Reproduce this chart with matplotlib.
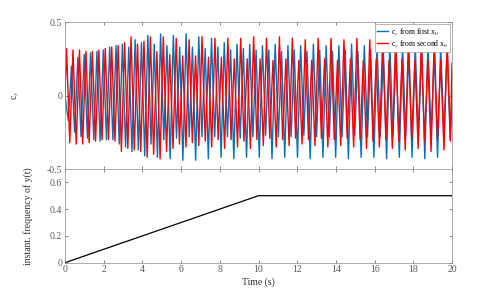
import numpy as np
import matplotlib
matplotlib.use("Agg")
import matplotlib.pyplot as plt

plt.rcParams['font.family'] = ['Liberation Serif', 'DejaVu Serif']
plt.rcParams['mathtext.fontset'] = 'stix'
plt.rcParams['font.size'] = 7

# c_y from first x0: extrema (peaks / troughs)
blue_peaks = [0.20, 0.26, 0.28, 0.29, 0.30, 0.31, 0.33, 0.34, 0.35, 0.33,
              0.38, 0.36, 0.41, 0.35, 0.42, 0.34, 0.41, 0.33, 0.42, 0.33,
              0.40, 0.32, 0.39, 0.33, 0.36, 0.31, 0.35, 0.32, 0.35, 0.31,
              0.34, 0.31, 0.35, 0.30, 0.34, 0.31, 0.34, 0.30, 0.35, 0.31,
              0.34, 0.30, 0.34, 0.31, 0.35, 0.30, 0.34, 0.31, 0.34, 0.30,
              0.35, 0.31, 0.34, 0.30, 0.34, 0.31, 0.35, 0.30, 0.34, 0.31]
blue_troughs = [-0.17, -0.25, -0.28, -0.29, -0.30, -0.31, -0.30, -0.30, -0.33, -0.35,
                -0.38, -0.37, -0.41, -0.33, -0.42, -0.30, -0.43, -0.29, -0.44, -0.28,
                -0.44, -0.28, -0.43, -0.28, -0.42, -0.28, -0.43, -0.29, -0.42, -0.28,
                -0.42, -0.27, -0.43, -0.28, -0.42, -0.28, -0.42, -0.27, -0.43, -0.28,
                -0.42, -0.28, -0.42, -0.28, -0.43, -0.27, -0.42, -0.28, -0.42, -0.28,
                -0.43, -0.28, -0.42, -0.27, -0.42, -0.28, -0.43, -0.28, -0.42, -0.28,
                -0.30]
blue_start, blue_end = 0.0, -0.05

# c_y from second x0
red_peaks = [0.32, 0.31, 0.31, 0.30, 0.30, 0.31, 0.32, 0.33, 0.34, 0.36,
             0.40, 0.35, 0.37, 0.40, 0.30, 0.40, 0.28, 0.39, 0.27, 0.38,
             0.27, 0.40, 0.26, 0.39, 0.26, 0.39, 0.25, 0.39, 0.25, 0.40,
             0.25, 0.39, 0.24, 0.40, 0.25, 0.39, 0.24, 0.38, 0.24, 0.39,
             0.25, 0.39, 0.24, 0.38, 0.25, 0.39, 0.24, 0.38, 0.25, 0.39,
             0.24, 0.38, 0.25, 0.39, 0.24, 0.38, 0.25, 0.39, 0.24, 0.38]
red_troughs = [-0.32, -0.33, -0.33, -0.32, -0.31, -0.30, -0.30, -0.31, -0.38, -0.36,
               -0.37, -0.38, -0.42, -0.40, -0.43, -0.38, -0.36, -0.33, -0.35, -0.32,
               -0.34, -0.31, -0.35, -0.30, -0.36, -0.30, -0.35, -0.31, -0.36, -0.30,
               -0.34, -0.29, -0.35, -0.30, -0.34, -0.29, -0.33, -0.30, -0.34, -0.29,
               -0.35, -0.30, -0.34, -0.29, -0.35, -0.30, -0.36, -0.31, -0.35, -0.30,
               -0.36, -0.31, -0.37, -0.30, -0.36, -0.31, -0.38, -0.30, -0.37, -0.31]
red_start, red_end = 0.0, 0.22

# instantaneous frequency of the input y(t)
freq_t = [0, 10, 20]
freq_val = [0, 0.5, 0.5]

t_end = 20.0
blue_first, blue_half = 0.17, 0.1645
red_first, red_half = 0.08, 0.1667


def zigzag(first, half, peaks, troughs, start, end, trough_first):
    seq = []
    a, b = (troughs, peaks) if trough_first else (peaks, troughs)
    for i in range(len(a)):
        seq.append(a[i])
        if i < len(b):
            seq.append(b[i])
    t = first + half * np.arange(len(seq))
    t = np.concatenate([[0.0], t, [t_end]])
    v = np.concatenate([[start], seq, [end]])
    return t, v


tb, yb = zigzag(blue_first, blue_half, blue_peaks, blue_troughs, blue_start, blue_end, True)
tr, yr = zigzag(red_first, red_half, red_peaks, red_troughs, red_start, red_end, False)

axis_col = '#595959'

fig = plt.figure(figsize=(5, 2.95), dpi=100)
ax1 = fig.add_axes([0.13, 0.427, 0.774, 0.498])
ax2 = fig.add_axes([0.13, 0.1095, 0.774, 0.318])

ax1.plot(tb, yb, color='#0072BD', lw=1.0, label=r'c$_y$ from first x$_0$')
ax1.plot(tr, yr, color='#FF0000', lw=1.0, label=r'c$_y$ from second x$_0$')
ax1.set_xlim(0, 20)
ax1.set_ylim(-0.5, 0.5)
ax1.set_yticks([-0.5, 0, 0.5])
ax1.set_yticklabels(['-0.5', '0', '0.5'])
ax1.set_xticks(range(0, 21, 2))
ax1.tick_params(labelbottom=False)
ax1.set_ylabel(r'c$_y$', labelpad=18)
leg = ax1.legend(loc='upper right', fontsize=5.6, handlelength=1.5, handletextpad=0.3,
                 borderaxespad=0.3, borderpad=0.2, labelspacing=0.1,
                 fancybox=False, framealpha=1)
leg.get_frame().set_edgecolor('#999999')
leg.get_frame().set_linewidth(0.5)

ax2.plot(freq_t, freq_val, color='black', lw=0.9)
ax2.set_xlim(0, 20)
ax2.set_ylim(0, 0.7)
ax2.set_yticks([0, 0.2, 0.4, 0.6])
ax2.set_yticklabels(['0', '0.2', '0.4', '0.6'])
ax2.set_xticks(range(0, 21, 2))
ax2.set_xlabel('Time (s)', labelpad=2)
ax2.set_ylabel('instant. frequency of y(t)', labelpad=12)

for ax in (ax1, ax2):
    ax.tick_params(direction='in', length=2.5, width=0.5, colors=axis_col,
                   top=True, right=True, labelsize=7, pad=2)
    for s in ax.spines.values():
        s.set_color('#8c8c8c')
        s.set_linewidth(0.5)
    ax.yaxis.label.set_color('#333333')
    ax.xaxis.label.set_color('#333333')

fig.savefig('out.png', dpi=100)
